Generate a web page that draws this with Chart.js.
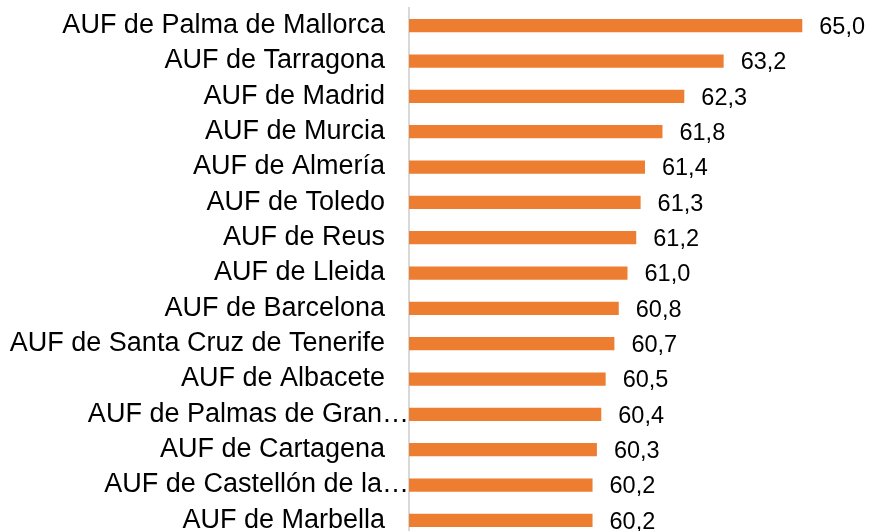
<!DOCTYPE html>
<html lang="es">
<head>
  <meta charset="UTF-8">
  <title>AUF</title>
  <style>
    html, body { margin: 0; padding: 0; overflow: hidden; background: #fff; }
    .wrapper { width: 869px; height: 540px; }
  </style>
</head>
<body>
  <div class="wrapper">
    <canvas id="barChart" width="869" height="540"></canvas>
  </div>

  <script src="https://cdn.jsdelivr.net/npm/chart.js"></script>
  <script>
    const categories = [
      'AUF de Palma de Mallorca',
      'AUF de Tarragona',
      'AUF de Madrid',
      'AUF de Murcia',
      'AUF de Almería',
      'AUF de Toledo',
      'AUF de Reus',
      'AUF de Lleida',
      'AUF de Barcelona',
      'AUF de Santa Cruz de Tenerife',
      'AUF de Albacete',
      'AUF de Palmas de Gran…',
      'AUF de Cartagena',
      'AUF de Castellón de la…',
      'AUF de Marbella'
    ]
    const values = [65.0, 63.2, 62.3, 61.8, 61.4, 61.3, 61.2, 61.0, 60.8, 60.7, 60.5, 60.4, 60.3, 60.2, 60.2]
    const axisMin = 56
    const axisMax = 66

    // value labels drawn after each bar, with a decimal comma
    const valueLabels = {
      id: 'valueLabels',
      afterDatasetsDraw(chart) {
        const ctx = chart.ctx
        const meta = chart.getDatasetMeta(0)
        ctx.save()
        ctx.font = '23.5px "Liberation Sans", Arial, sans-serif'
        ctx.fillStyle = '#000'
        ctx.textAlign = 'left'
        ctx.textBaseline = 'middle'
        meta.data.forEach((bar, i) => {
          const txt = values[i].toFixed(1).replace('.', ',')
          ctx.fillText(txt, bar.x + 17, bar.y + 2)
        })
        ctx.restore()
      }
    }

    // truncated labels run right up to the axis line, like in the original
    const shiftTruncated = {
      id: 'shiftTruncated',
      beforeDraw(chart) {
        const items = chart.scales.y.getLabelItems()
        items.forEach(item => {
          if (!item._shifted && String(item.label).endsWith('…')) {
            item.options.translation[0] += 24
            item._shifted = true
          }
        })
      }
    }

    const chart = new Chart(document.getElementById('barChart'), {
      type: 'bar',
      data: {
        labels: categories,
        datasets: [{
          data: values,
          backgroundColor: '#ED7D31',
          borderWidth: 0,
          categoryPercentage: 1,
          barPercentage: 0.375
        }]
      },
      options: {
        indexAxis: 'y',
        responsive: false,
        animation: false,
        layout: { padding: { top: 8, bottom: 2, right: 23, left: 0 } },
        plugins: {
          legend: { display: false },
          tooltip: { enabled: false }
        },
        scales: {
          x: {
            display: false,
            min: axisMin,
            max: axisMax
          },
          y: {
            afterFit(scale) {
              scale.width = 409
              scale.paddingTop = 0
              scale.paddingBottom = 0
            },
            grid: { display: false },
            border: { display: true, color: '#D9D9D9', width: 2 },
            ticks: {
              autoSkip: false,
              padding: 16,
              color: '#000',
              font: { family: '"Liberation Sans", Arial, sans-serif', size: 27 }
            }
          }
        }
      },
      plugins: [valueLabels, shiftTruncated]
    });
  </script>
</body>
</html>
